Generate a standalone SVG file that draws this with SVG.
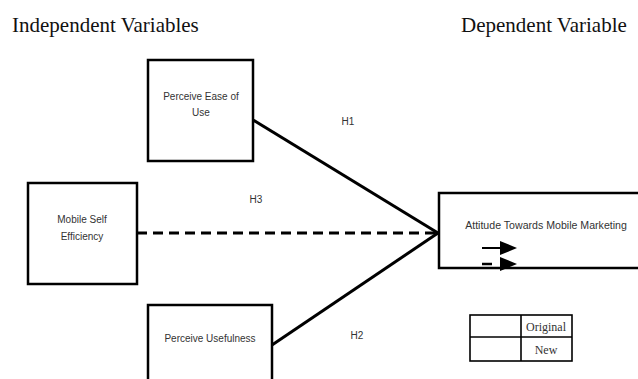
<svg xmlns="http://www.w3.org/2000/svg" width="638" height="379" viewBox="0 0 638 379">
<style>
.hdr{font-family:"Liberation Serif",serif;font-size:21px;fill:#111}
.lbl{font-family:"Liberation Sans",Arial,sans-serif;font-size:10px;fill:#333}
.box{fill:#fff;stroke:#000;stroke-width:2.5}
.con{stroke:#000;stroke-width:3;fill:none}
.tbl{fill:none;stroke:#000;stroke-width:1.6}
.tt{font-family:"Liberation Serif",serif;font-size:12px;fill:#333;text-anchor:middle}
</style>
<rect width="638" height="379" fill="#fff"/>
<text class="hdr" x="12" y="32">Independent Variables</text>
<text class="hdr" x="461" y="32">Dependent Variable</text>
<g id="connectors">
<line class="con" x1="253" y1="120" x2="438" y2="233"/>
<line class="con" x1="272" y1="345" x2="438" y2="233"/>
<line class="con" x1="137" y1="233" x2="438" y2="233" stroke-dasharray="10,6"/>
<text class="lbl" x="348" y="125" text-anchor="middle">H1</text>
<text class="lbl" x="256" y="203" text-anchor="middle">H3</text>
<text class="lbl" x="357" y="339" text-anchor="middle">H2</text>
</g>
<g id="peou">
<rect class="box" x="148" y="60" width="105" height="101"/>
<text class="lbl" x="201" y="100" text-anchor="middle">Perceive Ease of</text>
<text class="lbl" x="201" y="116" text-anchor="middle">Use</text>
</g>
<g id="mse">
<rect class="box" x="28" y="183" width="109" height="101"/>
<text class="lbl" x="82" y="223" text-anchor="middle">Mobile Self</text>
<text class="lbl" x="82" y="240" text-anchor="middle">Efficiency</text>
</g>
<g id="pu">
<rect class="box" x="148" y="305" width="124" height="90"/>
<text class="lbl" x="210" y="342" text-anchor="middle">Perceive Usefulness</text>
</g>
<g id="attitude">
<rect class="box" x="439" y="193" width="220" height="75"/>
<text class="lbl" x="546" y="229" text-anchor="middle" style="font-size:10.6px">Attitude Towards Mobile Marketing</text>
</g>
<g id="legend">
<line x1="482" y1="248" x2="502" y2="248" stroke="#000" stroke-width="2"/>
<polygon points="500,241 517,248 500,255" fill="#000"/>
<line x1="482" y1="264" x2="492" y2="264" stroke="#000" stroke-width="2.5"/>
<polygon points="500,257 517,264 500,271" fill="#000"/>
<rect class="tbl" x="470" y="315" width="102" height="46"/>
<line class="tbl" x1="521" y1="315" x2="521" y2="361"/>
<line class="tbl" x1="470" y1="337" x2="572" y2="337"/>
<text class="tt" x="546" y="331">Original</text>
<text class="tt" x="546" y="354">New</text>
</g>
</svg>
